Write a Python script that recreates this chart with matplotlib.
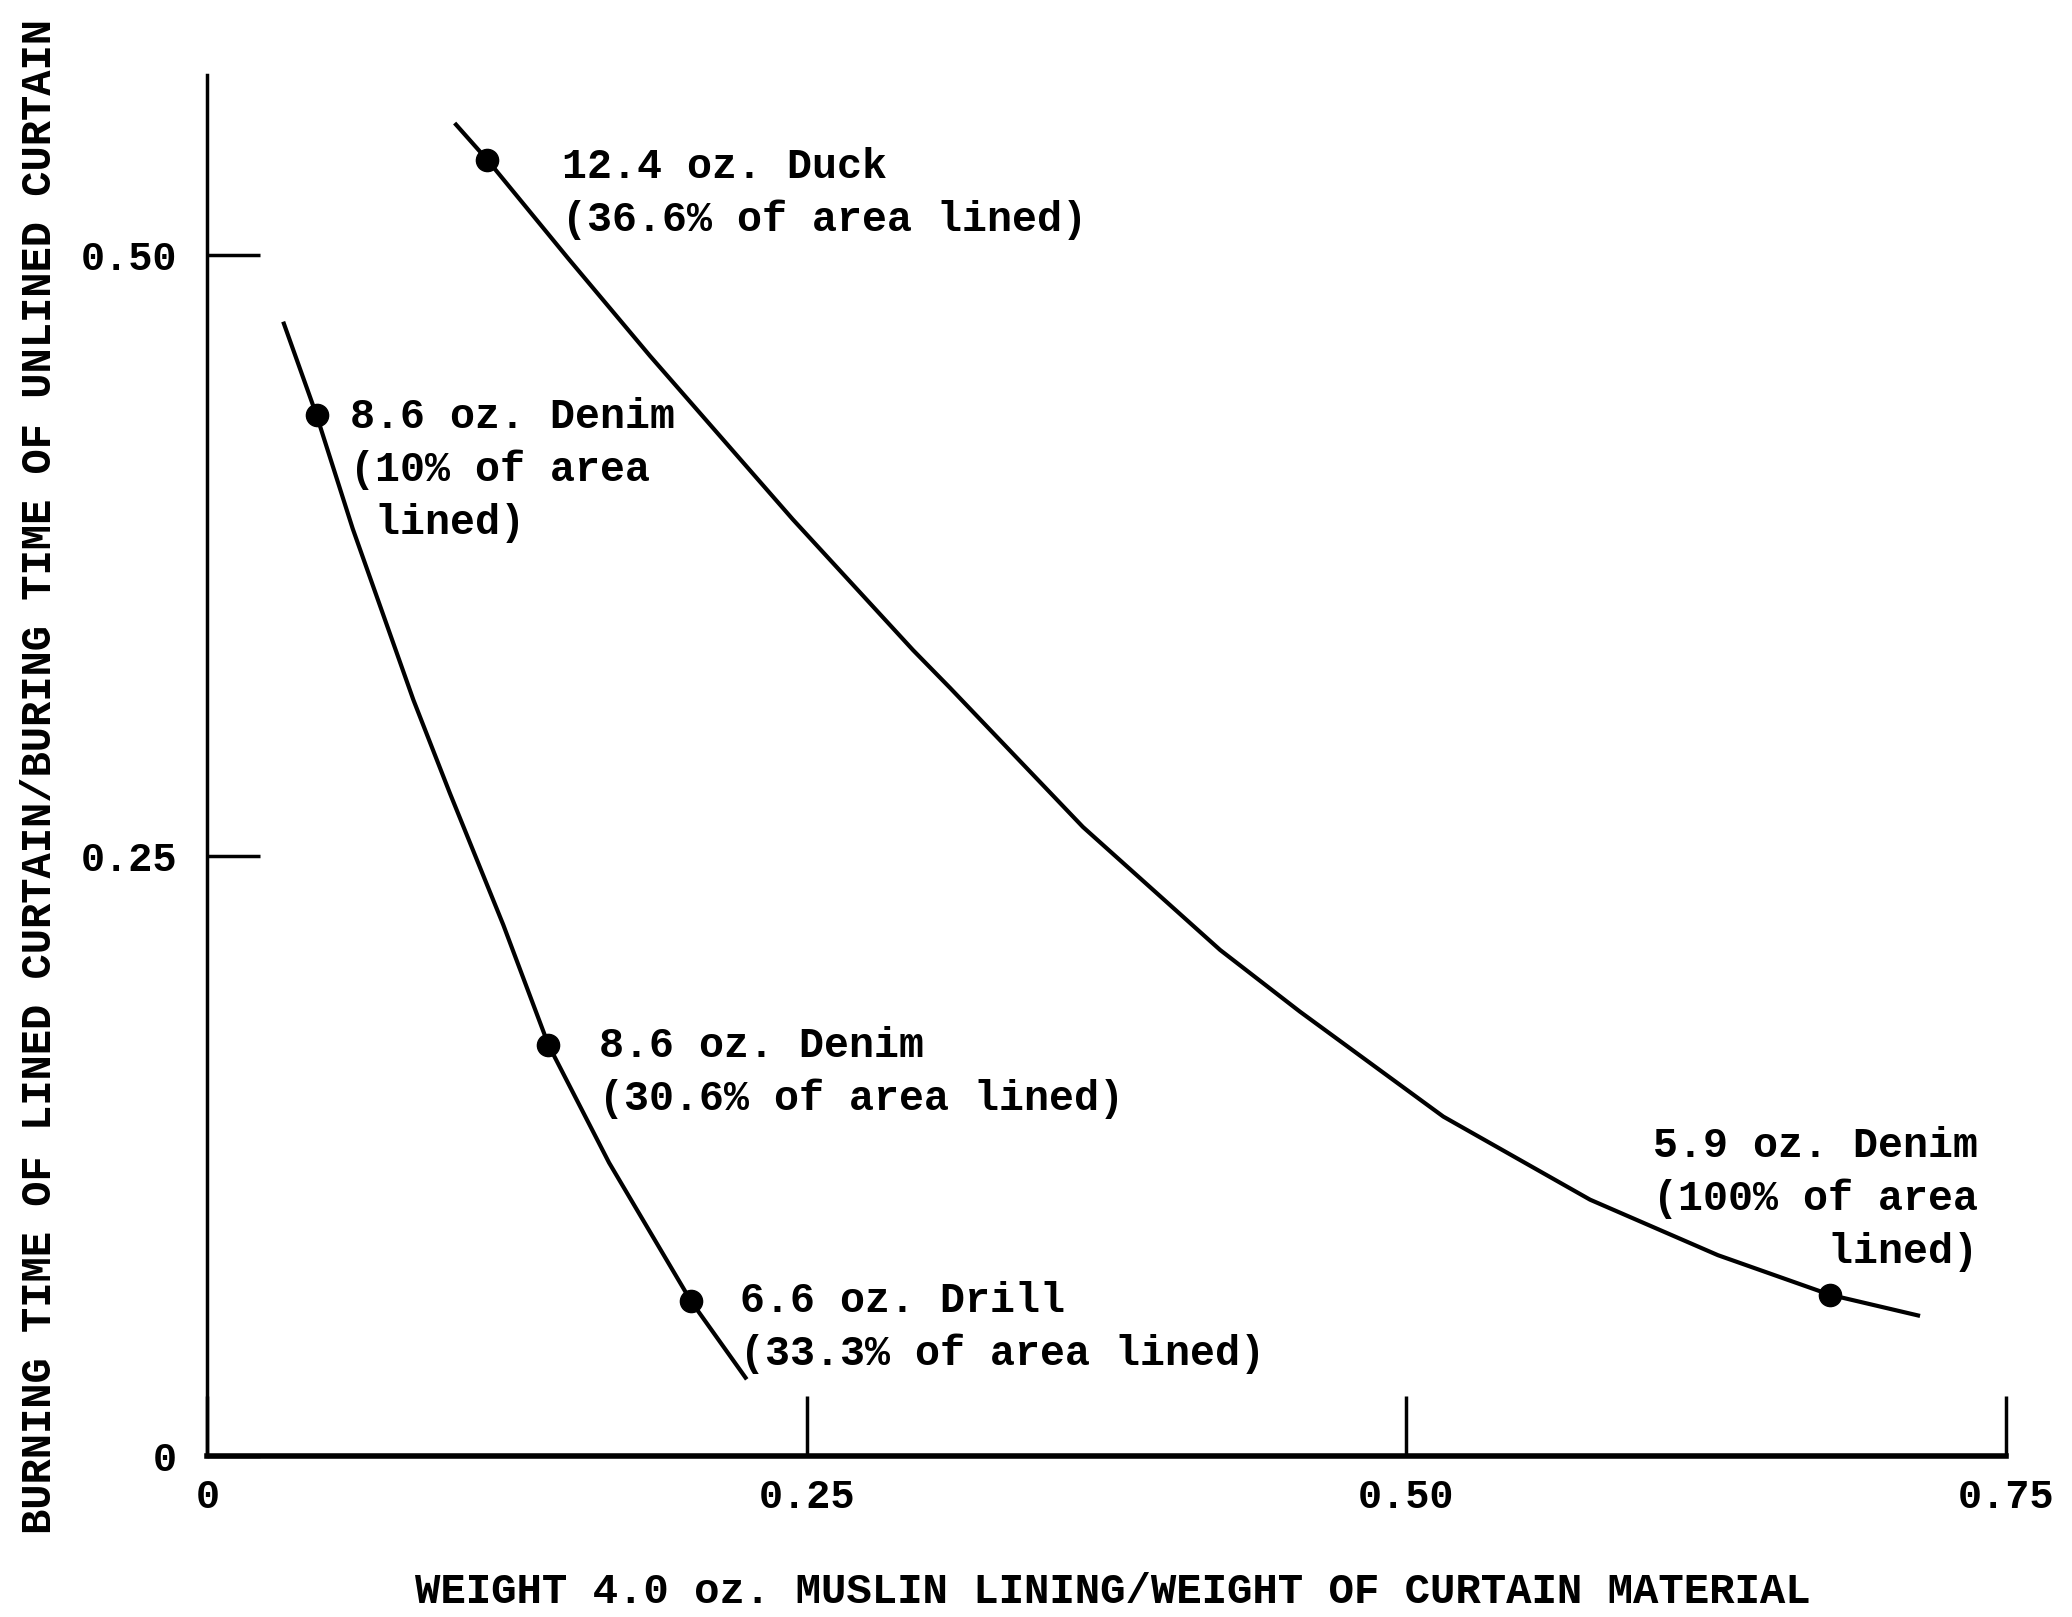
import matplotlib
matplotlib.use("Agg")
import matplotlib.pyplot as plt

# ---- data ----
lower_x = [0.0316, 0.0455, 0.0606, 0.0859, 0.1011, 0.1234, 0.1422, 0.1675, 0.2017, 0.2249]
lower_y = [0.4723, 0.4334, 0.3861, 0.3148, 0.2760, 0.2211, 0.1712, 0.1221, 0.0644, 0.0319]

upper_x = [0.1031, 0.1168, 0.1504, 0.1846, 0.2441, 0.2943, 0.3097, 0.3651, 0.4223,
           0.4556, 0.5154, 0.5766, 0.6299, 0.6767, 0.7142]
upper_y = [0.5550, 0.5396, 0.4987, 0.4580, 0.3900, 0.3355, 0.3198, 0.2619, 0.2107,
           0.1850, 0.1413, 0.1067, 0.0836, 0.0671, 0.0583]

point_x = [0.0455, 0.1422, 0.2017, 0.1168, 0.6767]
point_y = [0.4334, 0.1712, 0.0644, 0.5396, 0.0671]

labels = [
    "8.6 oz. Denim\n(10% of area\n lined)",
    "8.6 oz. Denim\n(30.6% of area lined)",
    "6.6 oz. Drill\n(33.3% of area lined)",
    "12.4 oz. Duck\n(36.6% of area lined)",
    "5.9 oz. Denim\n(100% of area\n      lined)",
]
label_x = [0.0595, 0.1631, 0.2221, 0.1477, 0.7384]
label_y = [0.4105, 0.1597, 0.0535, 0.5258, 0.1070]
label_ha = ["left", "left", "left", "left", "right"]

xticks = [0, 0.25, 0.50, 0.75]
xtick_labels = ["0", "0.25", "0.50", "0.75"]
yticks = [0, 0.25, 0.50]
ytick_labels = ["0", "0.25", "0.50"]

xlabel = "WEIGHT 4.0 oz. MUSLIN LINING/WEIGHT OF CURTAIN MATERIAL"
ylabel = "BURNING TIME OF LINED CURTAIN/BURING TIME OF UNLINED CURTAIN"

# ---- figure ----
FONT = "Liberation Mono"
fig = plt.figure(figsize=(20.72, 16.17), dpi=100)
ax = fig.add_axes([0.1001, 0.0996, 0.8680, 0.8540])
ax.set_xlim(0, 0.75)
ax.set_ylim(0, 0.575)

ax.plot(lower_x, lower_y, color="black", lw=3.0, solid_capstyle="butt",
        solid_joinstyle="round")
ax.plot(upper_x, upper_y, color="black", lw=3.0, solid_capstyle="butt",
        solid_joinstyle="round")
ax.plot(point_x, point_y, "o", color="black", ms=16)

for t, x, y, ha in zip(labels, label_x, label_y, label_ha):
    ax.text(x, y, t, ha=ha, va="center", multialignment=ha,
            family=FONT, fontsize=30, fontweight="bold", linespacing=1.4)

for s in ["top", "right"]:
    ax.spines[s].set_visible(False)
ax.spines["left"].set_linewidth(2.5)
ax.spines["bottom"].set_linewidth(4)

ax.set_xticks(xticks)
ax.set_xticklabels(xtick_labels, family=FONT, fontsize=29, fontweight="bold")
ax.set_yticks(yticks)
ax.set_yticklabels(ytick_labels, family=FONT, fontsize=29, fontweight="bold")
ax.tick_params(axis="x", direction="in", length=43, width=2.5, pad=16)
ax.tick_params(axis="y", direction="in", length=38, width=2.5, pad=22)

fig.text(0.537, 0.0155, xlabel, ha="center", va="center",
         family=FONT, fontsize=30.5, fontweight="bold")
fig.text(0.0193, 0.52, ylabel, ha="center", va="center", rotation=90,
         family=FONT, fontsize=30.3, fontweight="bold")

fig.savefig("out.png", dpi=100, facecolor="white")
